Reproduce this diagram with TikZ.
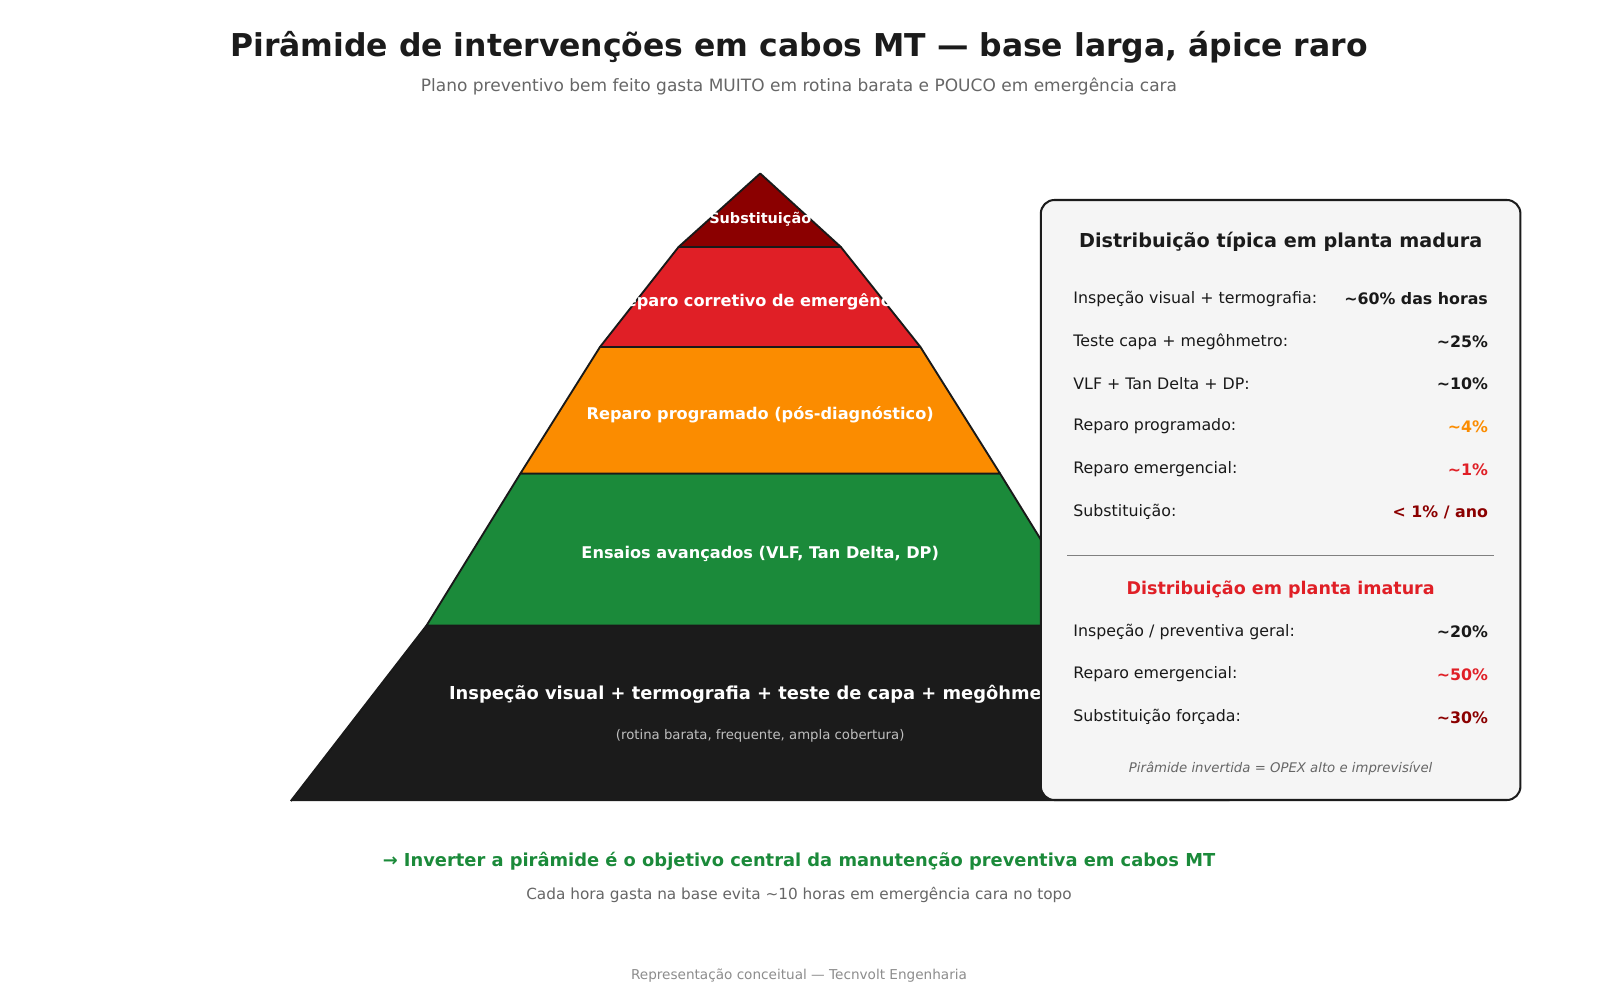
\documentclass[tikz,border=0pt]{standalone}
\usepackage{fontspec}
\setmainfont{DejaVu Sans}
\begin{document}
\begin{tikzpicture}[x=0.6pt,y=-0.6pt,
  lay/.style={draw=black!90,line width=1.1pt,line join=round},
  ltxt/.style={text=white,font=\fontsize{9.5}{11}\selectfont\bfseries},
  bl/.style={anchor=west,font=\fontsize{9.3}{11}\selectfont,text=black!90},
  br/.style={anchor=east,font=\fontsize{9.3}{11}\selectfont\bfseries,text=black!90}]
\definecolor{dred}{HTML}{8B0000}
\definecolor{red1}{HTML}{E01F26}
\definecolor{org}{HTML}{FB8C00}
\definecolor{grn}{HTML}{1B8A3A}
\definecolor{blk}{HTML}{1B1B1B}
\useasboundingbox (0,0) rectangle (1568,980);
\node (title) at (783,46) {\fontsize{18.5}{22}\selectfont\bfseries\color{blk}Pirâmide de intervenções em cabos MT — base larga, ápice raro};
\node (sub) at (783,85) {\fontsize{10}{12}\selectfont\color{black!60}Plano preventivo bem feito gasta MUITO em rotina barata e POUCO em emergência cara};
% layers
\fill[blk] (418,613) -- (1072,613) -- (1205,785) -- (285,785) -- cycle;
\draw[lay,fill=grn] (510,464) -- (980,464) -- (1072,613) -- (418,613) -- cycle;
\draw[lay,fill=org] (588,340) -- (902,340) -- (980,464) -- (510,464) -- cycle;
\draw[lay,fill=red1] (665,242) -- (824,242) -- (902,340) -- (588,340) -- cycle;
\draw[lay,fill=dred] (745,170) -- (824,242) -- (665,242) -- cycle;
\draw[lay] (285,785) -- (418,613);
\node[ltxt,font=\fontsize{8.5}{10}\selectfont\bfseries] (l5) at (745,215) {Substituição};
\node[ltxt] (l4) at (745,296) {Reparo corretivo de emergência};
\node[ltxt] (l3) at (745,406) {Reparo programado (pós-diagnóstico)};
\node[ltxt] (l2) at (745,543) {Ensaios avançados (VLF, Tan Delta, DP)};
\node[ltxt,font=\fontsize{10.5}{12}\selectfont\bfseries] (l1) at (745,680) {Inspeção visual + termografia + teste de capa + megôhmetro};
\node[text=black!25,font=\fontsize{7.8}{9}\selectfont] (l1b) at (745,721) {(rotina barata, frequente, ampla cobertura)};
% box
\draw[fill=black!4,draw=blk,line width=1.2pt,rounded corners=8pt] (1020,196) rectangle (1490,784);
\node[font=\fontsize{11.3}{13}\selectfont\bfseries,text=blk] (bt) at (1255,237) {Distribuição típica em planta madura};
\node[bl] at (1046,293) {Inspeção visual + termografia:};
\node[br] at (1464,293) {\textasciitilde60\% das horas};
\node[bl] at (1046,335) {Teste capa + megôhmetro:};
\node[br] at (1464,335) {\textasciitilde25\%};
\node[bl] at (1046,376) {VLF + Tan Delta + DP:};
\node[br] at (1464,376) {\textasciitilde10\%};
\node[bl] at (1046,418) {Reparo programado:};
\node[br,text=org] at (1464,418) {\textasciitilde4\%};
\node[bl] at (1046,460) {Reparo emergencial:};
\node[br,text=red1] at (1464,460) {\textasciitilde1\%};
\node[bl] at (1046,502) {Substituição:};
\node[br,text=dred] at (1464,502) {< 1\% / ano};
\draw[black!50,line width=0.7pt] (1046,544) -- (1464,544);
\node[font=\fontsize{10.3}{12}\selectfont\bfseries,text=red1] at (1255,578) {Distribuição em planta imatura};
\node[bl] at (1046,619) {Inspeção / preventiva geral:};
\node[br] at (1464,619) {\textasciitilde20\%};
\node[bl] at (1046,661) {Reparo emergencial:};
\node[br,text=red1] at (1464,661) {\textasciitilde50\%};
\node[bl] at (1046,703) {Substituição forçada:};
\node[br,text=dred] at (1464,703) {\textasciitilde30\%};
\node[font=\fontsize{7.8}{9}\selectfont\itshape,text=black!60] at (1255,753) {Pirâmide invertida = OPEX alto e imprevisível};
% footer
\node[font=\fontsize{10.5}{12}\selectfont\bfseries,text=grn] (f1) at (783,844) {→ Inverter a pirâmide é o objetivo central da manutenção preventiva em cabos MT};
\node[font=\fontsize{9}{11}\selectfont,text=black!60] (f2) at (783,877) {Cada hora gasta na base evita \textasciitilde10 horas em emergência cara no topo};
\node[font=\fontsize{8}{10}\selectfont,text=black!45] (f3) at (783,956) {Representação conceitual — Tecnvolt Engenharia};
\end{tikzpicture}
\end{document}
